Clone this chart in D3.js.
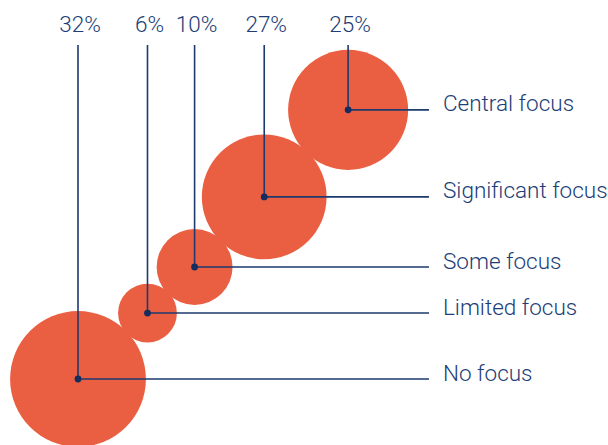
<!DOCTYPE html>
<html>
<head>
<meta charset="utf-8">
<script src="https://cdn.jsdelivr.net/npm/d3@7"></script>
<style>
  body { margin: 0; background: #fff; }
  text { font-family: Roboto, "Noto Sans", sans-serif; font-weight: 300; fill: #213d76; }
</style>
</head>
<body>
<div id="chart"></div>
<script>
// ------ DATA ------
const categories = ['No focus', 'Limited focus', 'Some focus', 'Significant focus', 'Central focus'];
const shares = [32, 6, 10, 27, 25];
const pctLabels = ['32%', '6%', '10%', '27%', '25%'];

// ------ LAYOUT ------
const width = 608, height = 445;
const start = {x: 78, y: 379};     // centre of first bubble
const lineEnd = 429, labelX = 443, pctY = 31.7, stemTop = 45;
const overlap = 1.5;               // bubbles touch, a hair of overlap
// bubbles climb roughly on a diagonal that bends very slightly upward
const stepAngle = i => (43.5 + 0.85 * (i - 1)) * Math.PI / 180;

const svg = d3.select('#chart').append('svg')
  .attr('width', width)
  .attr('height', height);

// radius by area
const r = d3.scaleSqrt()
  .domain([0, d3.max(shares)])
  .range([0, 67.9]);

// place each bubble tangent to the previous one
const nodes = [];
shares.forEach(function(v, i) {
  const rad = r(v);
  let cx = start.x, cy = start.y;
  if (i > 0) {
    const prev = nodes[i - 1];
    const d = prev.r + rad - overlap;
    cx = prev.cx + d * Math.cos(stepAngle(i));
    cy = prev.cy - d * Math.sin(stepAngle(i));
  }
  nodes.push({cat: categories[i], v: v, pct: pctLabels[i], r: rad, cx: cx, cy: cy});
});

// bubbles
svg.selectAll('circle.bubble')
  .data(nodes)
  .join('circle')
    .attr('class', 'bubble')
    .attr('cx', d => d.cx)
    .attr('cy', d => d.cy)
    .attr('r', d => d.r)
    .attr('fill', '#ea5f41');

// leader lines: down from the percentage, then across to the category
svg.selectAll('path.leader')
  .data(nodes)
  .join('path')
    .attr('class', 'leader')
    .attr('fill', 'none')
    .attr('stroke', '#1e3a6e')
    .attr('stroke-width', 1.6)
    .attr('d', d => `M${d.cx},${stemTop}V${d.cy}H${lineEnd}`);

svg.selectAll('circle.dot')
  .data(nodes)
  .join('circle')
    .attr('class', 'dot')
    .attr('cx', d => d.cx)
    .attr('cy', d => d.cy)
    .attr('r', 3.4)
    .attr('fill', '#142c5e');

// percentage labels on top
svg.selectAll('text.pct')
  .data(nodes)
  .join('text')
    .attr('class', 'pct')
    .attr('x', d => d.cx + 2)
    .attr('y', pctY)
    .attr('text-anchor', 'middle')
    .style('font-size', '22.5px')
    .text(d => d.pct);

// category labels on the right
svg.selectAll('text.cat')
  .data(nodes)
  .join('text')
    .attr('class', 'cat')
    .attr('x', labelX)
    .attr('y', d => d.cy + 1.5)
    .style('font-size', '22.5px')
    .text(d => d.cat);
</script>
</body>
</html>
